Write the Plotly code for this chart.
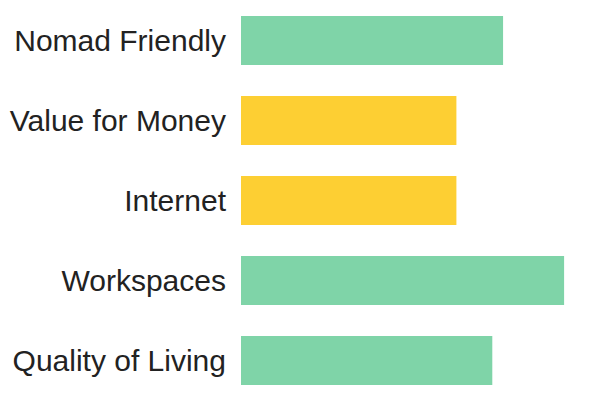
import plotly.graph_objects as go

# categories top to bottom, scores out of 100
categories = ["Nomad Friendly", "Value for Money", "Internet", "Workspaces", "Quality of Living"]
scores = [73, 60, 60, 90, 70]
colors = ["#7fd4a8", "#fdcf33", "#fdcf33", "#7fd4a8", "#7fd4a8"]

fig = go.Figure(
    go.Bar(
        x=scores,
        y=categories,
        orientation="h",
        marker=dict(color=colors, line=dict(width=0)),
        hoverinfo="skip",
    )
)

fig.update_layout(
    width=600,
    height=400,
    margin=dict(l=233, r=8, t=0, b=0),
    plot_bgcolor="white",
    paper_bgcolor="white",
    bargap=0.39,
    showlegend=False,
    font=dict(family="Liberation Sans, Arial, sans-serif", size=30, color="#222222"),
)
fig.update_xaxes(range=[0, 100], visible=False)
# page body adds an 8px offset, so shift the category range up a bit
fig.update_yaxes(
    range=[4.594, -0.406],
    showgrid=False,
    zeroline=False,
    showline=False,
    ticks="",
    ticklabelstandoff=14,
)

fig.write_html("out.html")
